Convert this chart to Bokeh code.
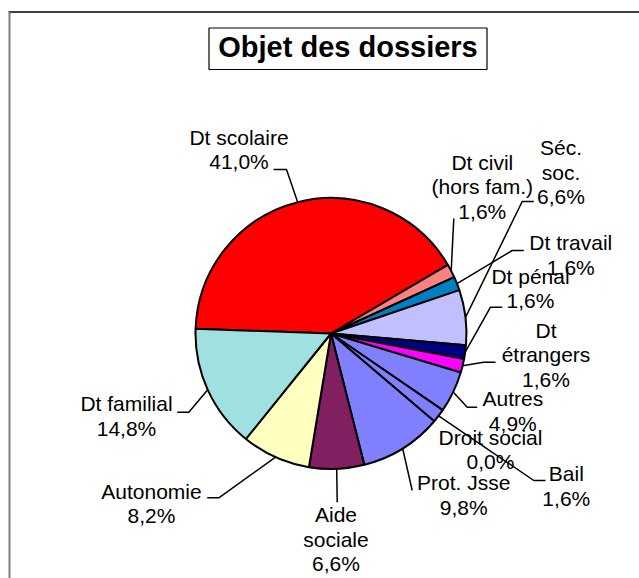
import math
from bokeh.plotting import figure
from bokeh.models import Range1d
from bokeh.core.properties import value
from bokeh.embed import file_html
from bokeh.resources import INLINE

# ---------------- data ----------------
title_text = "Objet des dossiers"
categories = ["Dt scolaire", "Dt civil\n(hors fam.)", "Dt travail", "Séc.\nsoc.",
              "Dt pénal", "Dt\nétrangers", "Autres", "Droit social", "Bail",
              "Prot. Jsse", "Aide\nsociale", "Autonomie", "Dt familial"]
counts = [25, 1, 1, 4, 1, 1, 3, 0, 1, 6, 4, 5, 9]
colors = ["#FF0000", "#FF8080", "#0080C0", "#C0C0FF", "#000080", "#FF00FF",
          "#8080FF", "#8080FF", "#8080FF", "#8080FF", "#802060", "#FFFFC0", "#A0E0E0"]

# ---------------- layout (screen pixel coordinates) ----------------
W, H = 639, 578
PAGE_H = 578            # data y = PAGE_H - screen y
CX, CY, R = 330.5, 333.0, 135.5
START_DEG = 178.0
PITCH = 24.5
LABEL_FS = 21
TITLE_FS = 29
BASE_SHIFT = 0.40       # renderer places text lower than the requested baseline
label_pos = [(238.5, 145), (481.8, 170), (570.3, 250.5), (560.5, 155.5),
             (530.0, 284), (545.5, 338.3), (512.3, 406.7), (490.0, 445),
             (565.8, 481.7), (463.2, 490.7), (335.5, 522.5), (151.0, 499),
             (126.0, 411.7)]
leader_path = [[(286, 169), (273, 169)],
               [(453.3, 218)],
               [(511.7, 250), (523.3, 250)],
               [(521.7, 201), (533.3, 201)],
               [(490, 306.7), (501.7, 306.7)],
               [(483, 361.7), (495, 361.7)],
               [(466.7, 406.7), (476.7, 406.7)],
               None,
               [(533.3, 480), (545, 480)],
               [(411.7, 490)],
               [(336.7, 501.7)],
               [(218.3, 497.3), (206.7, 497.3)],
               [(188.3, 411.7), (176.7, 411.7)]]
FONT = "Liberation Sans"


def py(y):
    return PAGE_H - y


p = figure(width=W, height=H, output_backend="svg", toolbar_location=None,
           x_range=Range1d(0, W), y_range=Range1d(0, H),
           x_axis_type=None, y_axis_type=None, tools="",
           min_border=0, outline_line_color=None)
p.grid.visible = False
p.background_fill_color = "white"
p.border_fill_color = "white"

# chart frame (top black, left grey)
p.line([8, W + 10], [py(11.5), py(11.5)], line_color="black", line_width=1.5)
p.line([9, 9], [py(11.5), py(H + 20)], line_color="#7f7f7f", line_width=2)

# title box
p.quad(left=208.5, right=486.5, top=py(27.5), bottom=py(69), fill_color="white",
       line_color="black", line_width=1.2)
p.text(x=[347.5], y=[py(58.3 - BASE_SHIFT * TITLE_FS)], text=[title_text],
       text_align="center", text_baseline="alphabetic", text_font=value(FONT),
       text_font_size=value(f"{TITLE_FS}px"), text_font_style="bold",
       text_color="black")

# pie
total = sum(counts)
cy_d = py(CY)
a = START_DEG
starts, ends, mids, fills = [], [], [], []
for c, col in zip(counts, colors):
    span = 360.0 * c / total
    mids.append(math.radians(a - span / 2))
    if c > 0:
        starts.append(math.radians(a - span))
        ends.append(math.radians(a))
        fills.append(col)
    a -= span

p.wedge(x=[CX] * len(starts), y=[cy_d] * len(starts), radius=R,
        start_angle=starts, end_angle=ends, fill_color=fills,
        line_color="black", line_width=2)

# leader lines
xs, ys = [], []
for m, path in zip(mids, leader_path):
    if path is None:
        continue
    ex = CX + R * math.cos(m)
    ey = cy_d + R * math.sin(m)
    xs.append([ex] + [pt[0] for pt in path])
    ys.append([ey] + [py(pt[1]) for pt in path])
p.multi_line(xs=xs, ys=ys, line_color="black", line_width=1.5)

# labels
tx, ty, tt = [], [], []
for cat, c, (lx, ly) in zip(categories, counts, label_pos):
    pct = f"{100.0 * c / total:.1f}".replace(".", ",") + "%"
    lines = cat.split("\n") + [pct]
    for i, ln in enumerate(lines):
        tx.append(lx)
        ty.append(py(ly + i * PITCH - BASE_SHIFT * LABEL_FS))
        tt.append(ln)
p.text(x=tx, y=ty, text=tt, text_align="center", text_baseline="alphabetic",
       text_font=value(FONT), text_font_size=value(f"{LABEL_FS}px"),
       text_color="black")

open("out.html", "w").write(file_html(p, INLINE))
